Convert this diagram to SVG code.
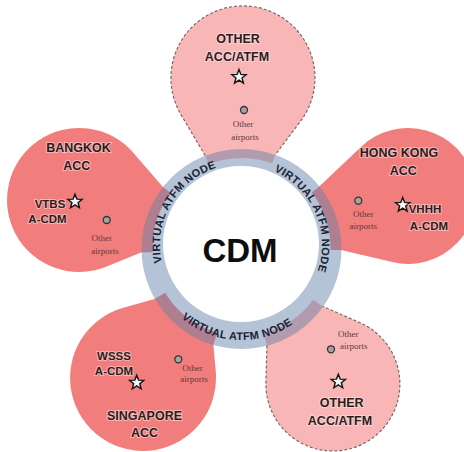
<svg xmlns="http://www.w3.org/2000/svg" xmlns:xlink="http://www.w3.org/1999/xlink" width="464" height="452" viewBox="0 0 464 452">
<defs>
<style>
.salmon{fill:#F27D7D}
.light{fill:#F8B6B6}
.dash{fill:none;stroke:#7d6868;stroke-width:1.2;stroke-dasharray:3 2}
.title{font-family:"Liberation Sans",Arial,sans-serif;font-weight:bold;font-size:12.5px;fill:#2b1d1d;text-anchor:middle;stroke:#fde6e6;stroke-opacity:0.55;stroke-width:2;paint-order:stroke}
.code{font-family:"Liberation Sans",Arial,sans-serif;font-weight:bold;font-size:11.5px;fill:#2b1d1d;text-anchor:middle;stroke:#fde6e6;stroke-opacity:0.5;stroke-width:2;paint-order:stroke}
.small{font-family:"Liberation Serif","Times New Roman",serif;font-size:9px;fill:#5b3b3b;text-anchor:middle}
.dot{fill:#a3a3a3;stroke:#333;stroke-width:1.3}
.star{fill:#f2f8f8;stroke:#141414;stroke-width:1.4;stroke-linejoin:miter}
.ring{font-family:"Liberation Sans",Arial,sans-serif;font-weight:bold;font-size:11px;fill:#1b2236;letter-spacing:0.3px}
</style>
<path id="star" d="M0,-7.5 L1.88,-2.59 L7.13,-2.32 L3.04,0.99 L4.41,6.07 L0,3.2 L-4.41,6.07 L-3.04,0.99 L-7.13,-2.32 L-1.88,-2.59 Z"/>
<path id="arcUL" d="M170.85,285.5 A81,81 0 0 1 241,164"/>
<path id="arcUR" d="M250.17,164.52 A81,81 0 0 1 306.1,293.2"/>
<path id="arcB" d="M159.03,289.77 A92,92 0 0 0 318.16,298.1"/>
</defs>
<rect width="464" height="452" fill="#ffffff"/>

<g id="node-other-top">
<path class="light" d="M205.2,155.6 L181,114.6 A72,72 0 1 1 300.5,121.2 L275.2,155 L241.5,249 Z"/>
<path class="dash" d="M205.2,155.6 L181,114.6 A72,72 0 1 1 300.5,121.2 L275.2,155"/>
<text class="title" x="238" y="43">OTHER</text>
<text class="title" x="237" y="61">ACC/ATFM</text>
<use href="#star" class="star" x="239" y="77"/>
<circle class="dot" cx="244" cy="110" r="3.5"/>
<text class="small" x="243" y="127">Other</text>
<text class="small" x="245" y="140">airports</text>
</g>

<g id="node-bangkok">
<path class="salmon" d="M162.7,186.7 L133.5,152.9 A72,72 0 1 0 106.1,266.7 L141.1,252.5 L241.5,249 Z"/>
<text class="title" x="78.5" y="152">BANGKOK</text>
<text class="title" x="76.7" y="170">ACC</text>
<text class="code" x="50" y="208">VTBS</text>
<use href="#star" class="star" x="75" y="201.7"/>
<text class="code" x="47.5" y="223">A-CDM</text>
<circle class="dot" cx="106.7" cy="220" r="3.5"/>
<text class="small" x="101.7" y="240.7">Other</text>
<text class="small" x="105" y="253.5">airports</text>
</g>

<g id="node-hongkong">
<path class="salmon" d="M319.2,186.6 L361.2,146.7 A68,68 0 1 1 392.3,262.1 L341,250 L241.5,249 Z"/>
<text class="title" x="399" y="156.7">HONG KONG</text>
<text class="title" x="403.3" y="175">ACC</text>
<circle class="dot" cx="358.3" cy="200.7" r="3.5"/>
<text class="small" x="363.3" y="217">Other</text>
<text class="small" x="363.3" y="229">airports</text>
<use href="#star" class="star" x="402.7" y="205"/>
<text class="code" x="425" y="212.7">VHHH</text>
<text class="code" x="429" y="230">A-CDM</text>
</g>

<g id="node-singapore">
<path class="salmon" d="M154.4,299 L123.3,307.7 A73,73 0 1 0 215.8,371.6 L213.4,345.1 L241.5,249 Z"/>
<text class="code" x="114" y="360">WSSS</text>
<text class="code" x="114" y="375">A-CDM</text>
<use href="#star" class="star" x="136.7" y="382.7"/>
<circle class="dot" cx="178.3" cy="359.3" r="3.5"/>
<text class="small" x="192.5" y="371">Other</text>
<text class="small" x="194" y="381.7">airports</text>
<text class="title" x="144.5" y="420">SINGAPORE</text>
<text class="title" x="144.5" y="436.7">ACC</text>
</g>

<g id="node-other-bottom">
<path class="light" d="M266.9,345.6 L265.9,382.4 A67,67 0 1 0 359.9,322.7 L322.9,306.4 L241.5,249 Z"/>
<path class="dash" d="M266.9,345.6 L265.9,382.4 A67,67 0 1 0 359.9,322.7 L322.9,306.4"/>
<text class="small" x="348.3" y="337.3">Other</text>
<circle class="dot" cx="331" cy="349.3" r="3.5"/>
<text class="small" x="353.7" y="349">airports</text>
<use href="#star" class="star" x="338.3" y="381.7"/>
<text class="title" x="341.7" y="407.3">OTHER</text>
<text class="title" x="340" y="425">ACC/ATFM</text>
</g>

<g id="connectors"></g>

<g id="node-cdm">
<circle cx="241.5" cy="249" r="100" fill="#6280A8" fill-opacity="0.47"/>
<circle cx="241.5" cy="247" r="89" fill="#B5C3D6"/>
<circle cx="241" cy="244" r="78" fill="#ffffff"/>
<text class="ring"><textPath href="#arcUL" startOffset="50%" text-anchor="middle">VIRTUAL ATFM NODE</textPath></text>
<text class="ring"><textPath href="#arcUR" startOffset="50%" text-anchor="middle">VIRTUAL ATFM NODE</textPath></text>
<text class="ring"><textPath href="#arcB" startOffset="50%" text-anchor="middle">VIRTUAL ATFM NODE</textPath></text>
<text x="240" y="262" font-family="Liberation Sans, Arial, sans-serif" font-weight="bold" font-size="33" fill="#0d0d0d" text-anchor="middle">CDM</text>
</g>
</svg>
